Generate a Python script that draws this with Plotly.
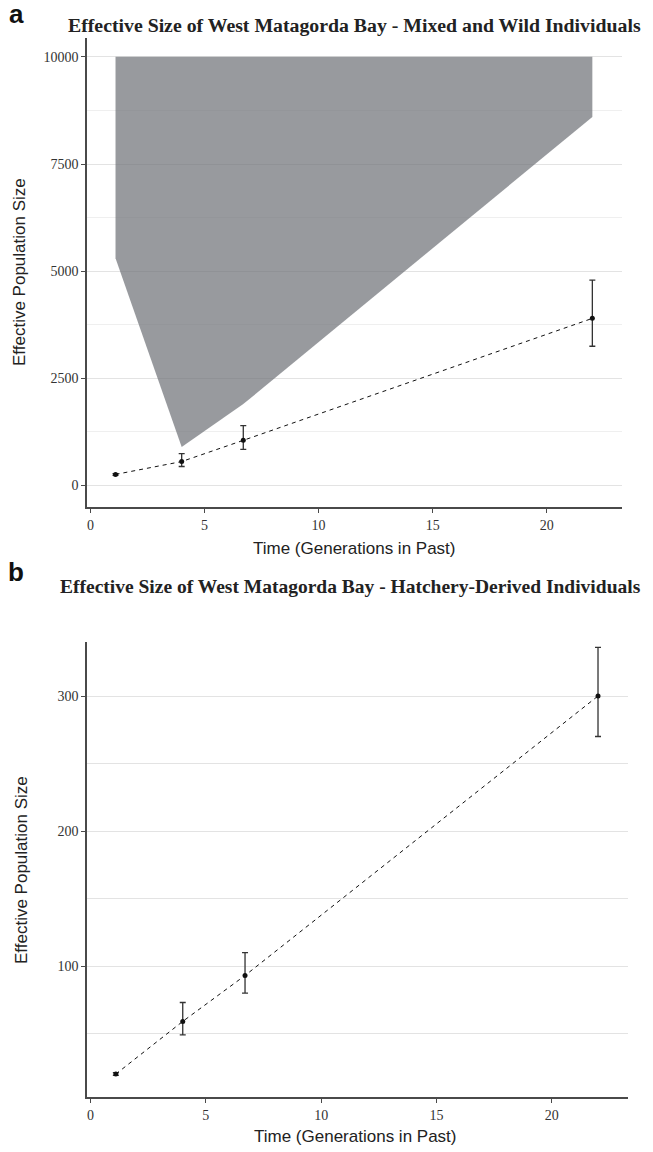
import plotly.graph_objects as go

# ── Data ──────────────────────────────────────────────────────────────────────
gen = [1.1, 4.0, 6.7, 22.0]

# panel a: mixed and wild individuals
ne_wild = [260, 560, 1055, 3900]
ne_wild_lo = [240, 445, 845, 3250]
ne_wild_hi = [280, 745, 1400, 4790]
band_lower = [5300, 900, 1900, 8600]
band_upper = [10000, 10000, 10000, 10000]

# panel b: hatchery-derived individuals
ne_hatch = [20, 59, 93, 300]
ne_hatch_lo = [19, 49, 80, 270]
ne_hatch_hi = [21, 73, 110, 336]

x_ticks = [0, 5, 10, 15, 20]
y_ticks_a = [0, 2500, 5000, 7500, 10000]
y_ticks_b = [100, 200, 300]

W, H = 653, 1152
SERIF = "Liberation Serif"
SANS = "Liberation Sans"
AXIS = "#4a4a4a"
GRID = "#e3e3e3"
MINOR = "#efefef"


def px(x):
    return x / W


def py(y):
    return 1 - y / H


fig = go.Figure()

# confidence band (panel a)
fig.add_trace(go.Scatter(x=gen, y=band_lower, mode="lines", line=dict(width=0),
                         showlegend=False, hoverinfo="skip", xaxis="x", yaxis="y"))
fig.add_trace(go.Scatter(x=gen, y=band_upper, mode="lines", line=dict(width=0),
                         fill="tonexty", fillcolor="rgba(112,115,120,0.72)",
                         showlegend=False, hoverinfo="skip", xaxis="x", yaxis="y"))


def add_series(xs, ys, lo, hi, xa, ya):
    fig.add_trace(go.Scatter(
        x=xs, y=ys, mode="lines+markers", xaxis=xa, yaxis=ya, showlegend=False,
        line=dict(color="#111111", width=1, dash="4px,4px"),
        marker=dict(color="#111111", size=5),
        error_y=dict(type="data", symmetric=False,
                     array=[h - v for h, v in zip(hi, ys)],
                     arrayminus=[v - l for v, l in zip(ys, lo)],
                     color="#333333", thickness=1.3, width=3),
    ))


add_series(gen, ne_wild, ne_wild_lo, ne_wild_hi, "x", "y")
add_series(gen, ne_hatch, ne_hatch_lo, ne_hatch_hi, "x2", "y2")

tickfont = dict(family=SERIF, size=14, color="#333333")
xcommon = dict(showgrid=False, zeroline=False, showline=True, linecolor=AXIS, linewidth=1.5,
               ticks="outside", ticklen=4, tickcolor=AXIS, tickwidth=1.2,
               tickvals=x_ticks, range=[-0.15, 23.3], tickfont=tickfont)
ycommon = dict(showgrid=True, gridcolor=GRID, gridwidth=1, zeroline=False,
               showline=True, linecolor=AXIS, linewidth=1.5, tickformat="d",
               ticks="outside", ticklen=4, tickcolor=AXIS, tickwidth=1.2,
               tickfont=tickfont)

fig.update_layout(
    width=W, height=H,
    margin=dict(l=0, r=0, t=0, b=0),
    paper_bgcolor="white", plot_bgcolor="white",
    xaxis=dict(xcommon, domain=[px(87), px(622)], anchor="y"),
    yaxis=dict(ycommon, domain=[py(507), py(38)], anchor="x",
               range=[-500, 10440], tickvals=y_ticks_a,
               minor=dict(tick0=0, dtick=1250, showgrid=True, gridcolor=MINOR, gridwidth=1)),
    xaxis2=dict(xcommon, domain=[px(87), px(628)], anchor="y2"),
    yaxis2=dict(ycommon, domain=[py(1097), py(642)], anchor="x2",
                range=[3, 340], tickvals=y_ticks_b,
                minor=dict(tick0=0, dtick=50, showgrid=True, gridcolor=GRID, gridwidth=1)),
)

notes = [
    ("<b>a</b>", 16, 14, dict(family=SANS, size=26, color="#111111"), 0),
    ("<b>b</b>", 16, 572, dict(family=SANS, size=26, color="#111111"), 0),
    ("<b>Effective Size of West Matagorda Bay - Mixed and Wild Individuals</b>",
     354, 25, dict(family=SERIF, size=19.8, color="#222222"), 0),
    ("<b>Effective Size of West Matagorda Bay - Hatchery-Derived Individuals</b>",
     350, 586, dict(family=SERIF, size=19.5, color="#222222"), 0),
    ("Effective Population Size", 19, 272, dict(family=SANS, size=17, color="#222222"), -90),
    ("Effective Population Size", 21, 870, dict(family=SANS, size=17, color="#222222"), -90),
    ("Time (Generations in Past)", 354, 548, dict(family=SANS, size=17, color="#222222"), 0),
    ("Time (Generations in Past)", 356, 1136, dict(family=SANS, size=17, color="#222222"), 0),
]
for text, x, y, font, ang in notes:
    fig.add_annotation(text=text, x=px(x), y=py(y), xref="paper", yref="paper",
                       showarrow=False, font=font, textangle=ang,
                       xanchor="center", yanchor="middle")

# the page's default body margin would shift the fixed-size figure by 8px
fig.write_html("out.html", config={"displayModeBar": False},
               post_script="document.body.style.margin='0';")
